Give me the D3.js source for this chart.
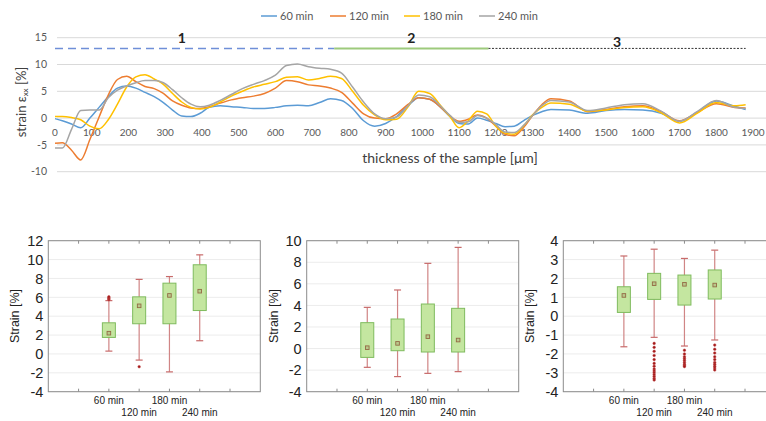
<!DOCTYPE html>
<html><head><meta charset="utf-8">
<script src="https://cdn.jsdelivr.net/npm/d3@7"></script>
<style>body{margin:0;background:#fff}svg{display:block}</style>
</head><body>
<svg id="c" width="766" height="421"></svg>
<script>
// ---------- top chart data ----------
const thickness=[0,20,45,70,95,120,145,170,195,220,245,270,295,320,345,370,395,420,450,480,510,540,570,600,630,660,690,720,750,780,810,840,870,900,930,960,990,1020,1050,1075,1100,1125,1150,1175,1200,1225,1250,1275,1300,1325,1350,1400,1450,1500,1550,1600,1650,1700,1750,1800,1850,1880];
const strain60=[-0.1,-0.5,-1.1,-1.8,0.0,2.0,4.0,5.6,6.0,5.6,4.8,4.0,2.9,1.5,0.4,0.3,0.9,2.0,2.3,2.1,2.0,1.8,1.8,2.0,2.3,2.4,2.3,2.9,3.6,3.3,1.8,-0.5,-1.5,-1.0,0.3,2.2,3.8,3.5,2.0,0.3,-1.0,-1.1,0.0,-0.4,-1.0,-1.6,-1.5,-0.5,0.5,1.2,1.6,1.5,0.9,1.4,1.6,1.5,0.9,-0.6,1.2,3.2,2.2,1.6];
const strain120=[-4.7,-4.6,-6.0,-7.8,-4.0,0.2,4.3,7.2,7.8,6.8,5.9,5.5,4.6,3.2,2.4,1.9,1.8,2.1,2.8,3.4,3.8,4.1,4.6,5.6,7.0,6.8,6.2,6.0,5.6,4.8,2.8,0.8,0.0,-0.1,0.8,2.5,3.8,3.5,2.0,0.4,-0.6,-0.2,0.6,0.0,-1.5,-3.0,-3.3,-1.8,0.5,2.5,3.6,3.2,1.2,1.6,2.1,2.3,1.2,-0.5,1.1,2.7,2.0,1.9];
const strain180=[0.3,0.3,0.1,-0.3,-1.5,-2.0,-0.3,2.6,5.8,7.7,8.1,7.3,6.3,4.6,3.0,2.0,1.7,2.0,3.0,4.1,5.0,5.8,6.3,6.8,7.6,7.7,7.1,7.4,7.8,7.4,5.0,2.4,0.6,-0.3,-0.2,2.0,5.0,4.6,2.3,0.3,-1.8,-0.5,1.3,0.8,-1.5,-2.8,-3.0,-1.5,0.6,2.0,2.8,2.6,1.3,1.5,2.0,2.1,1.0,-0.9,1.0,2.9,2.3,2.5];
const strain240=[-5.6,-5.6,-2.1,1.4,1.5,1.5,3.8,5.2,6.0,6.6,7.0,7.0,6.6,5.3,3.8,2.6,2.1,2.4,3.3,4.4,5.5,6.3,7.0,8.0,9.8,10.1,9.6,9.3,9.1,8.4,5.8,3.0,0.8,-0.1,0.2,2.2,4.3,4.0,2.2,0.5,-0.8,-0.7,0.5,0.0,-1.2,-2.6,-2.7,-1.4,0.5,2.3,3.3,3.0,1.4,1.9,2.5,2.7,1.3,-0.6,1.3,3.3,2.0,1.8];
const seriesNames=["60 min","120 min","180 min","240 min"];
const xTickValues=d3.range(0,2000,100);
const yTickValues=[-10,-5,0,5,10,15];
const regionLabels=["1","2","3"];
const regionFrom=[0,760,1180];
const regionTo=[760,1180,1880];
const regionLabelAt=[345,970,1530];
const regionLevel=13;

// ---------- box plot data ----------
const boxCategories=["60 min","120 min","180 min","240 min"];
const p1Upper=[5.65,7.9,8.2,10.5], p1Q3=[3.3,6.05,7.5,9.45], p1Mean=[2.2,5.1,6.2,6.65], p1Q1=[1.75,3.2,3.2,4.6], p1Lower=[0.3,-0.65,-1.9,1.4];
const p1Out=[[5.75,5.85,5.95,6.05],[-1.35],[],[]];
const p2Upper=[3.82,5.43,7.9,9.38], p2Q3=[2.4,2.74,4.13,3.73], p2Mean=[0.08,0.48,1.1,0.79], p2Q1=[-0.82,-0.2,-0.32,-0.32], p2Lower=[-1.74,-2.6,-2.3,-2.14];
const p2Out=[[],[],[],[]];
const p3Upper=[3.19,3.55,3.06,3.5], p3Q3=[1.56,2.27,2.18,2.45], p3Mean=[1.1,1.72,1.69,1.65], p3Q1=[0.2,0.89,0.59,0.91], p3Lower=[-1.62,-1.12,-1.58,-1.26];
const p3Out=[[],[-1.44,-1.65,-1.86,-2.08,-2.3,-2.5,-2.65,-2.8,-2.9,-3.0,-3.1,-3.2,-3.3,-3.38],[-1.8,-2.0,-2.15,-2.25,-2.35,-2.45,-2.55,-2.62,-2.67],[-1.53,-1.75,-1.95,-2.15,-2.3,-2.45,-2.55,-2.65,-2.75,-2.85]];
const p1Ticks=[-4,-2,0,2,4,6,8,10,12], p2Ticks=[-4,-2,0,2,4,6,8,10], p3Ticks=[-4,-3,-2,-1,0,1,2,3,4];

const svg=d3.select("#c");
const colors=["#5B9BD5","#ED7D31","#FFC000","#A5A5A5"];
const topFont="Lato, 'Open Sans', sans-serif";

// ---------- top chart ----------
const x=d3.scaleLinear().domain([0,1900]).range([55,753]);
const y=d3.scaleLinear().domain([-10,15]).range([171.7,37.7]);
const topG=svg.append("g");
topG.selectAll("line.grid").data(yTickValues).join("line")
  .attr("x1",57).attr("x2",766).attr("y1",d=>y(d)).attr("y2",d=>y(d))
  .attr("stroke","#d9d9d9").attr("stroke-width",1);
topG.selectAll("text.yt").data(yTickValues).join("text")
  .attr("x",47).attr("y",d=>y(d)).attr("dy","0.35em").attr("text-anchor","end")
  .attr("font-family",topFont).attr("font-size",10.5).attr("fill","#595959").text(d=>d);
topG.selectAll("text.xt").data(xTickValues).join("text")
  .attr("x",d=>x(d)).attr("y",y(0)+18).attr("text-anchor","middle")
  .attr("font-family",topFont).attr("font-size",10).attr("fill","#595959").text(d=>d);

// region markers
const regDash=["8,5",null,"2,1.5"], regCol=["#6f8fd8","#9dca7c","#333"], regW=[1.5,2,1];
regionLabels.forEach((lab,i)=>{
  topG.append("line").attr("x1",x(regionFrom[i])).attr("x2",x(regionTo[i]))
    .attr("y1",y(regionLevel)).attr("y2",y(regionLevel))
    .attr("stroke",regCol[i]).attr("stroke-width",regW[i]).attr("stroke-dasharray",regDash[i]);
  topG.append("text").attr("x",x(regionLabelAt[i])).attr("y",y(regionLevel)-(i===2?1:5))
    .attr("text-anchor","middle").attr("font-family",topFont).attr("font-weight","bold")
    .attr("font-size",14).attr("fill","#222").text(lab);
});

const allSeries=[strain60,strain120,strain180,strain240];
const line=d3.line().x(d=>x(d[0])).y(d=>y(d[1])).curve(d3.curveMonotoneX);
allSeries.forEach((s,i)=>{
  topG.append("path").datum(thickness.map((t,j)=>[t,s[j]]))
    .attr("d",line).attr("fill","none").attr("stroke",colors[i]).attr("stroke-width",1.5);
});

// legend
const legX=[280,349,423,498];
seriesNames.forEach((n,i)=>{
  topG.append("line").attr("x1",legX[i]-19).attr("x2",legX[i]-3).attr("y1",16).attr("y2",16)
    .attr("stroke",colors[i]).attr("stroke-width",1.5);
  topG.append("text").attr("x",legX[i]).attr("y",16).attr("dy","0.35em")
    .attr("font-family",topFont).attr("font-size",11).attr("fill","#595959").text(n);
});
// axis titles
topG.append("text").attr("x",450).attr("y",163).attr("text-anchor","middle")
  .attr("font-family",topFont).attr("font-size",14).attr("fill","#404040")
  .text("thickness of the sample [\u03bcm]");
const yt=topG.append("text").attr("transform","translate(26,102) rotate(-90)").attr("text-anchor","middle")
  .attr("font-family",topFont).attr("font-size",13).attr("fill","#404040");
yt.append("tspan").text("strain \u03b5");
yt.append("tspan").attr("font-size",8).attr("dy",2).text("xx");
yt.append("tspan").attr("dy",-2).text(" [%]");

// ---------- box plots ----------
const bFont="'Liberation Sans', Arial, sans-serif";
function boxPanel(left,yDomain,ticks,upper,q3,mean,q1,lower,outs){
  const g=svg.append("g");
  const bx=d3.scaleLinear().domain([-2,5]).range([left,left+212]);
  const by=d3.scaleLinear().domain(yDomain).range([391.7,240.7]);
  g.selectAll("line.gr").data(ticks).join("line")
    .attr("x1",bx(-2)).attr("x2",bx(5)).attr("y1",d=>by(d)).attr("y2",d=>by(d))
    .attr("stroke","#ececec");
  g.append("rect").attr("x",bx(-2)).attr("y",240.7).attr("width",212).attr("height",151)
    .attr("fill","none").attr("stroke","#8c8c8c").attr("stroke-width",1);
  g.selectAll("line.tt").data(d3.range(-1,5)).join("line")
    .attr("x1",d=>bx(d)).attr("x2",d=>bx(d)).attr("y1",240.7).attr("y2",243.7).attr("stroke","#8c8c8c");
  g.selectAll("line.bt").data(d3.range(-1,5)).join("line")
    .attr("x1",d=>bx(d)).attr("x2",d=>bx(d)).attr("y1",391.7).attr("y2",388.7).attr("stroke","#8c8c8c");
  g.selectAll("text.yl").data(ticks).join("text")
    .attr("x",left-5).attr("y",d=>by(d)).attr("dy","0.36em").attr("text-anchor","end")
    .attr("font-family",bFont).attr("font-size",14.5).attr("fill","#222").text(d=>d);
  boxCategories.forEach((c,i)=>{
    const cx=bx(i);
    g.append("line").attr("x1",cx).attr("x2",cx).attr("y1",by(upper[i])).attr("y2",by(lower[i]))
      .attr("stroke","#d08585").attr("stroke-width",1.2);
    [upper[i],lower[i]].forEach(v=>g.append("line").attr("x1",cx-3.5).attr("x2",cx+3.5)
      .attr("y1",by(v)).attr("y2",by(v)).attr("stroke","#c86a6a").attr("stroke-width",1.2));
    g.append("rect").attr("x",cx-6.5).attr("width",13).attr("y",by(q3[i])).attr("height",by(q1[i])-by(q3[i]))
      .attr("fill","#c4e6a0").attr("stroke","#7fbb5e").attr("stroke-width",1);
    g.append("rect").attr("x",cx-1.8).attr("y",by(mean[i])-1.8).attr("width",3.6).attr("height",3.6)
      .attr("fill","#b8c98a").attr("stroke","#946a45").attr("stroke-width",0.9);
    outs[i].forEach(v=>g.append("circle").attr("cx",cx).attr("cy",by(v)).attr("r",1.3)
      .attr("fill","#a01818").attr("stroke","#c54a4a").attr("stroke-width",0.5));
    g.append("text").attr("x",cx).attr("y",i%2===0?403.5:415.8).attr("text-anchor","middle")
      .attr("font-family",bFont).attr("font-size",10).attr("fill","#222").text(c);
  });
  g.append("text").attr("transform",`translate(${left-29},316) rotate(-90)`).attr("text-anchor","middle")
    .attr("font-family",bFont).attr("font-size",12.5).attr("fill","#222").text("Strain [%]");
}
boxPanel(48.3,[-4,12],p1Ticks,p1Upper,p1Q3,p1Mean,p1Q1,p1Lower,p1Out);
boxPanel(306.7,[-4,10],p2Ticks,p2Upper,p2Q3,p2Mean,p2Q1,p2Lower,p2Out);
boxPanel(563.3,[-4,4],p3Ticks,p3Upper,p3Q3,p3Mean,p3Q1,p3Lower,p3Out);
</script>
</body></html>
